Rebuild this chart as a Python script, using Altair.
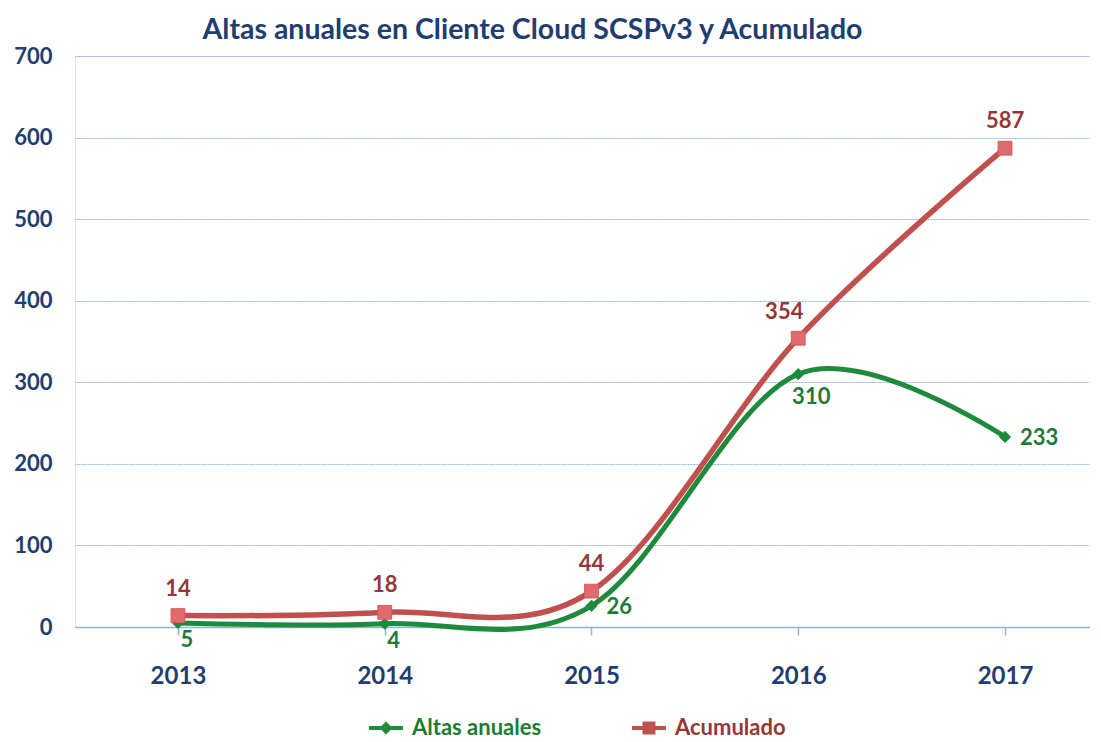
import altair as alt
import pandas as pd

years = [2013, 2014, 2015, 2016, 2017]
altas = [5, 4, 26, 310, 233]
acum = [14, 18, 44, 354, 587]
series_names = ["Altas anuales", "Acumulado"]

df = pd.DataFrame({
    "year": years * 2,
    "value": altas + acum,
    "series": [series_names[0]] * len(years) + [series_names[1]] * len(years),
})

GREEN = "#1E8A3C"
GREEN_TXT = "#1E7B34"
RED = "#C0504D"
RED_PT = "#E06A6C"
RED_TXT = "#953735"
NAVY = "#1F3D6E"
GRID = "#8DB4E2"
FONT = "Lato"

xscale = alt.Scale(domain=[2012.502, 2017.411], nice=False, zero=False)
yscale = alt.Scale(domain=[0, 700], nice=False)

x_enc = alt.X("year:Q", scale=xscale, title=None,
              axis=alt.Axis(values=years, format="d", grid=False,
                            domainColor=GRID, domainWidth=1.5,
                            tickColor=GRID, tickSize=8, tickWidth=1.5,
                            labelFont=FONT, labelFontSize=24, labelFontWeight="bold",
                            labelColor=NAVY, labelPadding=29))
y_enc = alt.Y("value:Q", scale=yscale, title=None,
              axis=alt.Axis(values=[0, 100, 200, 300, 400, 500, 600, 700],
                            grid=True, gridColor=GRID, gridDash=[2, 1], gridWidth=1,
                            domain=False, ticks=False,
                            labelFont=FONT, labelFontSize=22, labelFontWeight="bold",
                            labelColor=NAVY, labelPadding=23))

base = alt.Chart(df)
g = base.transform_filter(alt.datum.series == series_names[0])
r = base.transform_filter(alt.datum.series == series_names[1])

diamond_path = "M-1.7,-0.2L1.7,-0.2L1.7,0.2L-1.7,0.2Z M0,-0.65L0.65,0L0,0.65L-0.65,0Z"
square_path = "M-1.7,-0.2L1.7,-0.2L1.7,0.2L-1.7,0.2Z M-0.65,-0.65L0.65,-0.65L0.65,0.65L-0.65,0.65Z"

legend_layer = base.mark_point(filled=True, size=1, opacity=1).encode(
    x=x_enc, y=y_enc,
    color=alt.Color("series:N", scale=alt.Scale(domain=series_names, range=[GREEN, RED]),
                    legend=alt.Legend(
                        title=None, orient="none", direction="horizontal",
                        legendX=300, legendY=661,
                        symbolOpacity=1, symbolSize=400, symbolStrokeWidth=0,
                        labelFont=FONT, labelFontSize=22, labelFontWeight="bold",
                        labelColor={"expr": "datum.value == 'Acumulado' ? '#953735' : '#1E7B34'"},
                        labelOffset=15, columnPadding=90)),
    shape=alt.Shape("series:N", scale=alt.Scale(domain=series_names, range=[diamond_path, square_path])),
)

green_line = g.mark_line(color=GREEN, strokeWidth=5, interpolate="cardinal").encode(x="year:Q", y="value:Q")
red_line = r.mark_line(color=RED, strokeWidth=5.5, interpolate="cardinal").encode(x="year:Q", y="value:Q")

green_pts = g.mark_point(shape="diamond", filled=True, size=150, color=GREEN, opacity=1).encode(x="year:Q", y="value:Q")
red_pts = r.mark_point(shape="square", filled=True, size=190, fill=RED_PT, stroke="#D9595C",
                       strokeWidth=1, opacity=1).encode(x="year:Q", y="value:Q")

txt = dict(font=FONT, fontSize=22, fontWeight="bold")

red_lab = r.transform_filter(alt.datum.year != 2016).mark_text(
    color=RED_TXT, dy=-27, **txt).encode(x="year:Q", y="value:Q", text="value:Q")
red_lab16 = r.transform_filter(alt.datum.year == 2016).mark_text(
    color=RED_TXT, dy=-26, dx=-14, **txt).encode(x="year:Q", y="value:Q", text="value:Q")

green_below = g.transform_filter(
    (alt.datum.year == 2013) | (alt.datum.year == 2014)).mark_text(
    color=GREEN_TXT, dy=17, dx=9, **txt).encode(x="year:Q", y="value:Q", text="value:Q")
green_below16 = g.transform_filter(alt.datum.year == 2016).mark_text(
    color=GREEN_TXT, dy=23, dx=13, **txt).encode(x="year:Q", y="value:Q", text="value:Q")
green_right = g.transform_filter(
    (alt.datum.year == 2015) | (alt.datum.year == 2017)).mark_text(
    color=GREEN_TXT, align="left", dx=15, dy=1, **txt).encode(x="year:Q", y="value:Q", text="value:Q")

chart = alt.layer(
    legend_layer,
    green_line, red_line, green_pts, red_pts,
    red_lab, red_lab16, green_below, green_below16, green_right,
).properties(
    width=1015, height=571,
    padding={"left": 67, "top": 48, "right": 0, "bottom": 116},
    autosize=alt.AutoSizeParams(type="none"),
    title=alt.Title("Altas anuales en Cliente Cloud SCSPv3 y Acumulado",
                    font=FONT, fontSize=28.5, fontWeight="bold", color=NAVY,
                    anchor="middle", dx=-50, offset=1),
).configure_view(stroke=None).configure(background="white")

chart.save("out.html", embed_options={"renderer": "svg", "actions": False})
